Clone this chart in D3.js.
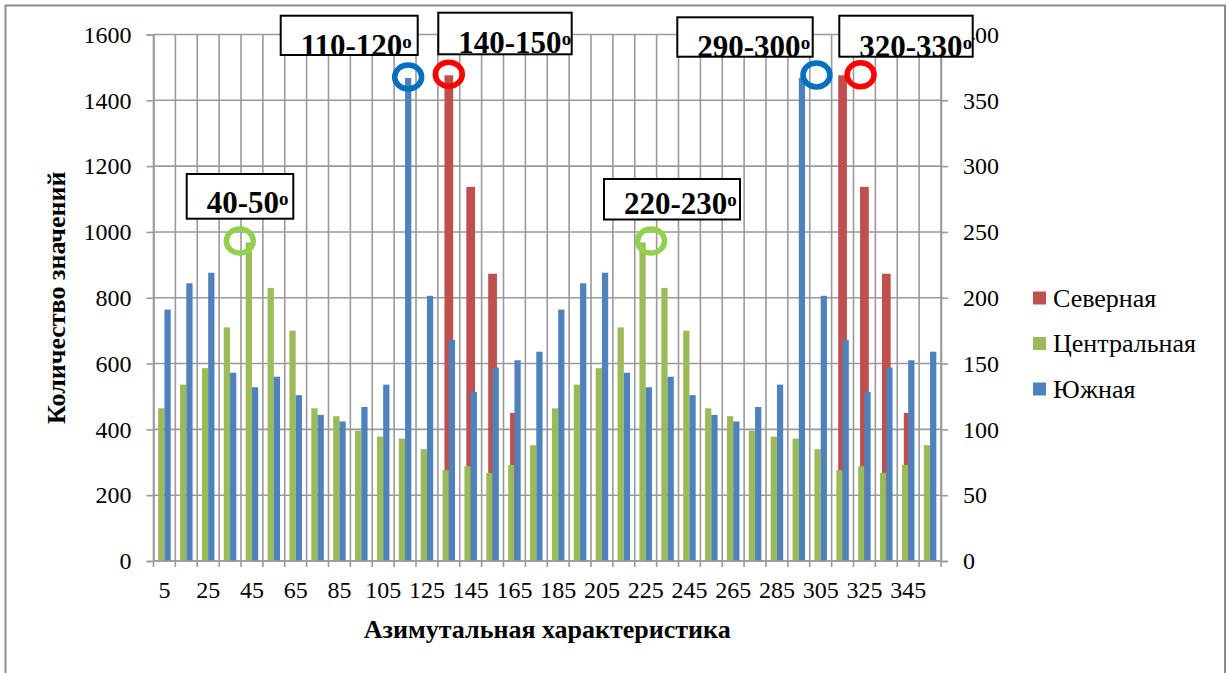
<!DOCTYPE html>
<html>
<head>
<meta charset="utf-8">
<script src="https://cdn.jsdelivr.net/npm/d3@7"></script>
<style>
  body { margin: 0; background: #fff; }
  svg { display: block; }
</style>
</head>
<body>
<svg id="chart" width="1227" height="673"></svg>
<script>
// Азимутальные сектора (центры интервалов по 10°)
const categories = [5, 15, 25, 35, 45, 55, 65, 75, 85, 95, 105, 115, 125, 135, 145, 155, 165, 175,
                    185, 195, 205, 215, 225, 235, 245, 255, 265, 275, 285, 295, 305, 315, 325, 335, 345, 355];
const tickLabels = [5, 25, 45, 65, 85, 105, 125, 145, 165, 185, 205, 225, 245, 265, 285, 305, 325, 345];

// Северная — левая ось
const northern = [0, 0, 0, 0, 0, 0, 0, 0, 0, 0, 0, 0, 0, 1476, 1137, 873, 450, 0,
                  0, 0, 0, 0, 0, 0, 0, 0, 0, 0, 0, 0, 0, 1476, 1137, 873, 450, 0];
// Центральная — правая ось
const central = [116, 134, 146.5, 177.5, 242, 207.5, 175, 116, 110, 99, 94.5, 93, 85, 69, 72, 67, 73, 88,
                 116, 134, 146.5, 177.5, 242, 207.5, 175, 116, 110, 99, 94.5, 93, 85, 69, 72, 67, 73, 88];
// Южная — правая ось
const southern = [191, 211, 219, 143, 132, 140, 126, 111, 106, 117, 134, 367, 201.5, 168, 128.5, 147, 152.5, 159,
                  191, 211, 219, 143, 132, 140, 126, 111, 106, 117, 134, 367, 201.5, 168, 128.5, 147, 152.5, 159];

const leftTicks = [0, 200, 400, 600, 800, 1000, 1200, 1400, 1600];
const rightTicks = [0, 50, 100, 150, 200, 250, 300, 350, 400];
const seriesNames = ["Северная", "Центральная", "Южная"];

// Выделенные максимумы
const calloutLabels = ["40-50", "110-120", "140-150", "220-230", "290-300", "320-330"];
const calloutCategories = [45, 115, 135, 225, 295, 315];
const calloutSeries = ["Центральная", "Южная", "Северная", "Центральная", "Южная", "Северная"];

// ---- оформление ----
const FONT = "'Liberation Serif', 'Times New Roman', serif";
const colors = { "Северная": "#C0504D", "Центральная": "#9BBB59", "Южная": "#4F81BD" };
const ringColors = { "Северная": "#FF0000", "Центральная": "#92D050", "Южная": "#0070C0" };
const gridColor = "#9a9a9a";
const plot = { left: 153.5, right: 941, top: 34.5, bottom: 561 };
const gapWidth = 1.5;

// смещение колец относительно вершины столбца и рамки подписей
const ringNudge = [[-9, -1.5], [0, -1], [0, -1], [8.5, -1.5], [14.5, -3], [18, -0.5]];
const boxLayout = [
  { x: 186.7, y: 174, w: 106.6, h: 44.7, base: -5.4 },
  { x: 280.7, y: 15.7, w: 137, h: 39.3, base: 1 },
  { x: 438.3, y: 12.7, w: 133.4, h: 41.6, base: -1 },
  { x: 604, y: 179, w: 136, h: 40.5, base: -5.4 },
  { x: 677.3, y: 17.3, w: 135.4, h: 39.4, base: 0 },
  { x: 839.3, y: 15.7, w: 133.4, h: 41, base: 0 }
];

const svg = d3.select("#chart").style("font-family", FONT);

// внешняя рамка области диаграммы
svg.append("rect")
  .attr("x", 5.5).attr("y", 5.5).attr("width", 1219.5).attr("height", 700)
  .attr("fill", "#fff").attr("stroke", "#8c8c8c").attr("stroke-width", 2);

const x = d3.scaleBand().domain(categories).range([plot.left, plot.right]).padding(0);
const yLeft = d3.scaleLinear().domain([0, 1600]).range([plot.bottom, plot.top]);
const yRight = d3.scaleLinear().domain([0, 400]).range([plot.bottom, plot.top]);
const bw = x.bandwidth();

// горизонтальная сетка
svg.append("g").selectAll("line").data(leftTicks).join("line")
  .attr("x1", plot.left).attr("x2", plot.right)
  .attr("y1", d => yLeft(d)).attr("y2", d => yLeft(d))
  .attr("stroke", gridColor).attr("stroke-width", 1.6);

// вертикальная сетка по границам секторов
const boundaries = categories.map(c => x(c)).concat([x(categories[categories.length - 1]) + bw]);
svg.append("g").selectAll("line").data(boundaries).join("line")
  .attr("x1", d => d).attr("x2", d => d)
  .attr("y1", plot.top).attr("y2", plot.bottom + 6)
  .attr("stroke", gridColor).attr("stroke-width", 1.6);

// Северная (основная ось, позади)
const redW = bw / (1 + gapWidth);
svg.append("g").selectAll("rect").data(categories.map((c, i) => ({ c, v: northern[i] })).filter(d => d.v > 0))
  .join("rect")
  .attr("x", d => x(d.c) + (bw - redW) / 2).attr("width", redW)
  .attr("y", d => yLeft(d.v)).attr("height", d => yLeft(0) - yLeft(d.v))
  .attr("fill", colors["Северная"]);

// Центральная и Южная (вспомогательная ось, кластер)
const pairW = bw / (2 + gapWidth);
const groupStart = (bw - 2 * pairW) / 2;
[[central, "Центральная", 0], [southern, "Южная", 1]].forEach(([vals, name, k]) => {
  svg.append("g").selectAll("rect").data(categories.map((c, i) => ({ c, v: vals[i] })))
    .join("rect")
    .attr("x", d => x(d.c) + groupStart + k * pairW).attr("width", pairW)
    .attr("y", d => yRight(d.v)).attr("height", d => yRight(0) - yRight(d.v))
    .attr("fill", colors[name]);
});

// оси
const axisStyle = g => {
  g.attr("font-family", null).attr("font-size", null);
  g.select(".domain").attr("stroke", gridColor).attr("stroke-width", 1.6);
  g.selectAll(".tick line").attr("stroke", gridColor).attr("stroke-width", 1.6);
  g.selectAll(".tick text").style("font-family", FONT).style("font-size", "24px").attr("fill", "#000");
};

svg.append("g").attr("transform", `translate(${plot.left},0)`)
  .call(d3.axisLeft(yLeft).tickValues(leftTicks).tickFormat(d3.format("d"))
    .tickSizeOuter(0).tickSize(7).tickPadding(15))
  .call(axisStyle);

svg.append("g").attr("transform", `translate(${plot.right},0)`)
  .call(d3.axisRight(yRight).tickValues(rightTicks).tickFormat(d3.format("d"))
    .tickSizeOuter(0).tickSize(7).tickPadding(15))
  .call(axisStyle);

svg.append("line")
  .attr("x1", plot.left).attr("x2", plot.right).attr("y1", plot.bottom).attr("y2", plot.bottom)
  .attr("stroke", gridColor).attr("stroke-width", 1.6);

svg.append("g").selectAll("text").data(tickLabels).join("text")
  .attr("x", d => x(d) + bw / 2).attr("y", 598)
  .attr("text-anchor", "middle").style("font-size", "24px")
  .text(d => d);

// подписи осей
svg.append("text")
  .attr("x", (plot.left + plot.right) / 2).attr("y", 638)
  .attr("text-anchor", "middle").style("font-size", "26px").attr("font-weight", "bold")
  .text("Азимутальная характеристика");

svg.append("text")
  .attr("transform", `translate(65,${(plot.top + plot.bottom) / 2}) rotate(-90)`)
  .attr("text-anchor", "middle").style("font-size", "26px").attr("font-weight", "bold")
  .text("Количество значений");

// легенда
const legend = svg.append("g").selectAll("g").data(seriesNames).join("g")
  .attr("transform", (d, i) => `translate(1033,${298 + i * 45.5})`);
legend.append("rect").attr("x", 0).attr("y", -6.5).attr("width", 13).attr("height", 13)
  .attr("fill", d => colors[d]);
legend.append("text").attr("x", 20).attr("y", 8.5).style("font-size", "26px").text(d => d);

// кольца на максимумах
const seriesValues = { "Северная": northern, "Центральная": central, "Южная": southern };
const barCenter = (cat, name) => {
  if (name === "Северная") return x(cat) + bw / 2;
  const k = name === "Центральная" ? 0 : 1;
  return x(cat) + groupStart + k * pairW + pairW / 2;
};
const barTop = (cat, name) => {
  const v = seriesValues[name][categories.indexOf(cat)];
  return name === "Северная" ? yLeft(v) : yRight(v);
};

calloutLabels.forEach((label, i) => {
  const cat = calloutCategories[i], name = calloutSeries[i];
  const b = boxLayout[i];
  const g = svg.append("g");
  g.append("rect").attr("x", b.x).attr("y", b.y).attr("width", b.w).attr("height", b.h)
    .attr("fill", "#fff").attr("stroke", "#000").attr("stroke-width", 2);
  const t = g.append("text").attr("x", b.x + 20).attr("y", b.y + b.h + b.base)
    .style("font-size", "31px").attr("font-weight", "bold");
  t.append("tspan").text(label);
  t.append("tspan").style("font-size", "19px").attr("dy", -8).text("o");

  svg.append("ellipse")
    .attr("cx", barCenter(cat, name) + ringNudge[i][0])
    .attr("cy", barTop(cat, name) + ringNudge[i][1])
    .attr("rx", 13.5).attr("ry", 12)
    .attr("fill", "none").attr("stroke", ringColors[name]).attr("stroke-width", 5.5);
});
</script>
</body>
</html>
